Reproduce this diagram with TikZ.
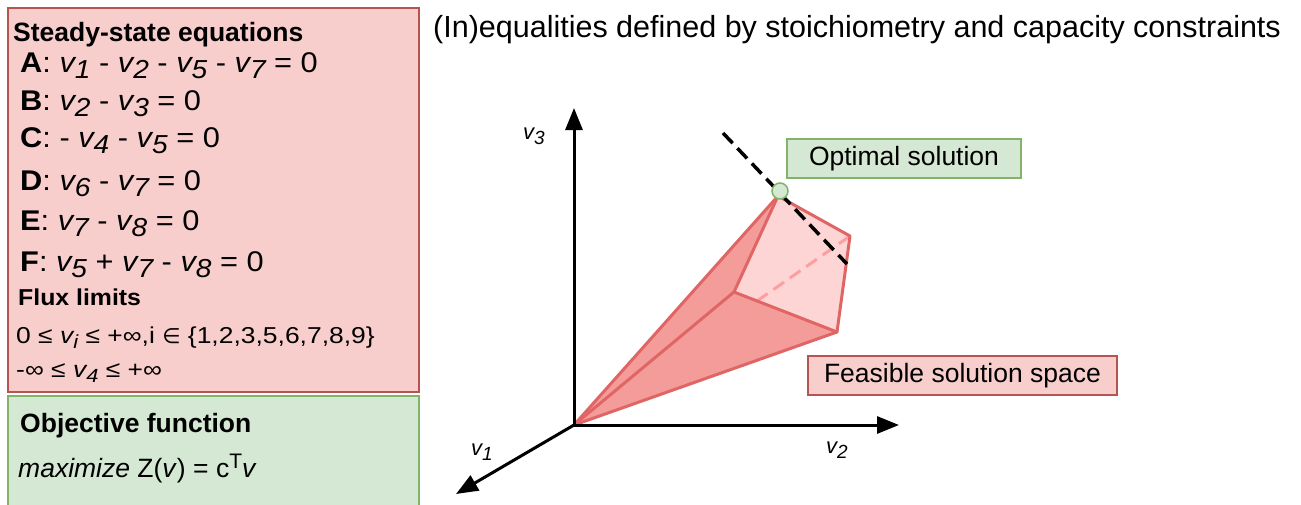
\documentclass[tikz,border=0pt]{standalone}
\usepackage{fontspec}
\setmainfont{Liberation Sans}
\newfontfamily\dejavu{DejaVu Sans}
\newfontfamily\eqfont{Liberation Sans}[FakeStretch=1.08]
\newfontfamily\fluxfont{Liberation Sans}[FakeStretch=1.15]
\newfontfamily\headfont{Liberation Sans}[FakeStretch=1.08]
\usetikzlibrary{arrows.meta}
\definecolor{redfill}{HTML}{F8CECC}
\definecolor{redline}{HTML}{B85450}
\definecolor{greenfill}{HTML}{D5E8D4}
\definecolor{greenline}{HTML}{82B366}
\definecolor{polyedge}{HTML}{E06666}
\definecolor{polydark}{HTML}{F49C9A}
\definecolor{polylight}{HTML}{FDD5D5}
\definecolor{dashpink}{HTML}{FF9E9E}
\newcommand{\fs}[1]{\fontsize{#1}{#1}\selectfont}
\newcommand{\vsub}[1]{\textit{v\raisebox{-6pt}{\fs{26}#1}}}
\newcommand{\vsubs}[1]{\textit{v\raisebox{-5pt}{\fs{19}#1}}}
\tikzset{
  redbox/.style={draw=redline, fill=redfill, line width=1.5pt, inner sep=0pt},
  greenbox/.style={draw=greenline, fill=greenfill, line width=1.5pt, inner sep=0pt},
  txt/.style={anchor=base west, inner sep=0pt, text=black},
  eq/.style={txt, font=\eqfont\fs{28.5}},
  axis/.style={line width=3pt, -{Triangle[length=22pt,width=17pt]}},
  axlabel/.style={inner sep=0pt, font=\fs{22}},
  polyline/.style={draw=polyedge, line width=3pt, line join=round, line cap=round},
  blackdash/.style={line width=3.5pt, dash pattern=on 14pt off 7pt},
  pinkdash/.style={draw=dashpink, line width=3pt, dash pattern=on 13pt off 7pt},
}
\begin{document}
\begin{tikzpicture}[x=1pt,y=-1pt]
\useasboundingbox (0,0) rectangle (1301,504);
\fill[white] (0,0) rectangle (1301,504);
% left boxes
\node[redbox, minimum width=411pt, minimum height=384pt, anchor=north west] (eqbox) at (7,7) {};
\node[greenbox, minimum width=411pt, minimum height=115pt, anchor=north west] (objbox) at (7,395) {};
\node[txt, font=\fs{26.5}\bfseries] (sshead) at (13,41) {Steady-state equations};
\node[eq] (eqA) at (20,72) {\textbf{A}: \vsub{1} - \vsub{2} - \vsub{5} - \vsub{7} = 0};
\node[eq] (eqB) at (20,110) {\textbf{B}: \vsub{2} - \vsub{3} = 0};
\node[eq] (eqC) at (20,147) {\textbf{C}: - \vsub{4} - \vsub{5} = 0};
\node[eq] (eqD) at (20,190) {\textbf{D}: \vsub{6} - \vsub{7} = 0};
\node[eq] (eqE) at (20,230) {\textbf{E}: \vsub{7} - \vsub{8} = 0};
\node[eq] (eqF) at (20,271) {\textbf{F}: \vsub{5} + \vsub{7} - \vsub{8} = 0};
\node[txt, font=\headfont\fs{23}\bfseries] (fluxhead) at (18,305) {Flux limits};
\node[txt, font=\fluxfont\fs{23}] (flux1) at (16,343) {0 ≤ \vsubs{i} ≤ +∞,i {\dejavu\fs{21}∈} \{1,2,3,5,6,7,8,9\}};
\node[txt, font=\fluxfont\fs{23}] (flux2) at (16,377) {-∞ ≤ \vsubs{4} ≤ +∞};
\node[txt, font=\fs{26.5}\bfseries] (objhead) at (20,432) {Objective function};
\node[txt, font=\fs{26.5}] (objfun) at (18,477) {\textit{maximize} Z(\textit{v}) = c\raisebox{9pt}{\fs{21}T}\textit{v}};
% title
\node[txt, font=\fs{30.5}] (title) at (433,37.5) {(In)equalities defined by stoichiometry and capacity constraints};
% axes
\coordinate (O) at (574,425);
\coordinate (v3tip) at (574,108);
\coordinate (v2tip) at (899,425);
\coordinate (v1tip) at (456,494);
% polyhedron
\coordinate (P) at (778,196);
\coordinate (R) at (850,236);
\coordinate (Q) at (837,332);
\coordinate (M) at (734,292);
\coordinate (Dm) at (757,301);
\fill[polylight] (P) -- (R) -- (Q) -- (M) -- cycle;
\fill[polydark] (O) -- (P) -- (M) -- cycle;
\fill[polydark] (O) -- (M) -- (Q) -- cycle;
\draw[pinkdash] (Dm) -- (R);
\draw[polyline] (O) -- (P) -- (R) -- (Q) -- cycle;
\draw[polyline] (P) -- (M) -- (Q);
\draw[polyline] (O) -- (M);
\draw[axis] (O) -- (v3tip);
\draw[axis] (O) -- (v2tip);
\draw[axis] (O) -- (v1tip);
\node[axlabel] (v3lab) at (534,136) {\vsubs{3}};
\node[axlabel] (v2lab) at (837,450) {\vsubs{2}};
\node[axlabel] (v1lab) at (482,452) {\vsubs{1}};
% optimum
\coordinate (dashA) at (723,133);
\coordinate (dashB) at (847,264);
\draw[blackdash] (dashA) -- (dashB);
\node[circle, draw=greenline, fill=greenfill, line width=1.5pt, minimum size=16pt, inner sep=0pt] (opt) at (780,191) {};
\node[greenbox, minimum width=234pt, minimum height=39pt, font=\fs{26.5}] (optlab) at (904,158.5) {Optimal solution};
\node[redbox, minimum width=309pt, minimum height=39pt, font=\fs{26.5}] (feaslab) at (962.5,375.5) {Feasible solution space};
\end{tikzpicture}
\end{document}
